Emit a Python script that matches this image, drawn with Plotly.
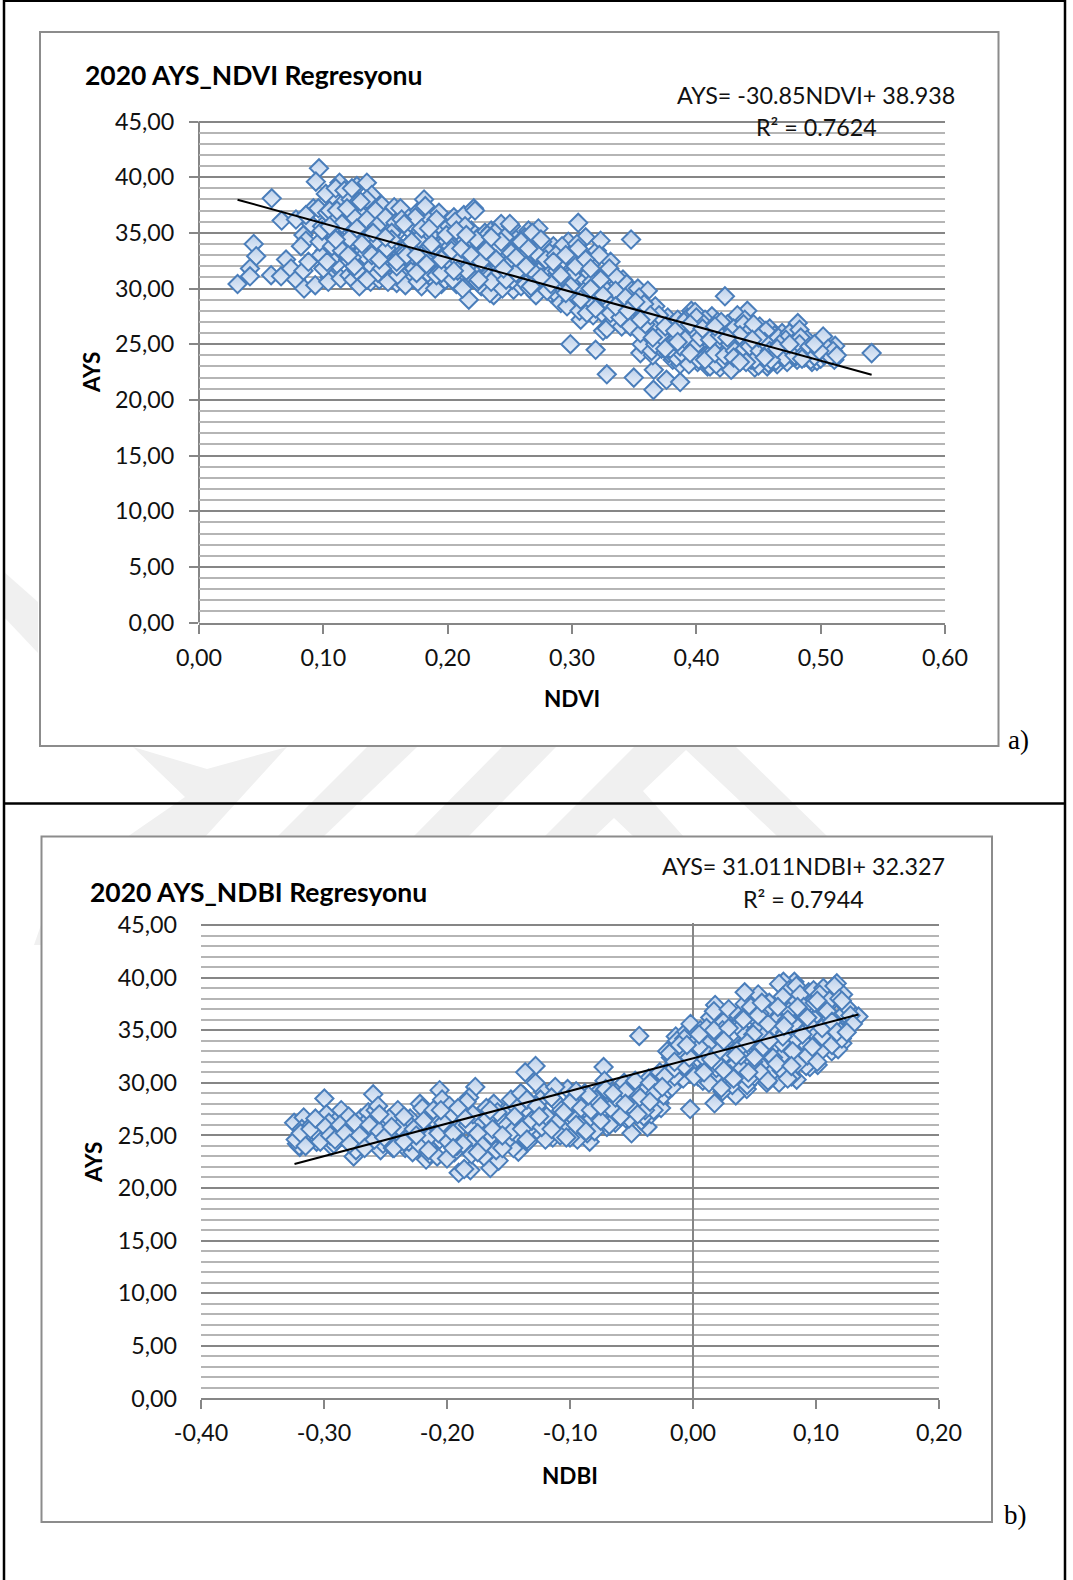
import plotly.graph_objects as go

W, H = 1073, 1580

# ---------- chart a data: NDVI / AYS ----------
ndvi = [
 .0965,.094,.0585,.0665,.078,.044,.046,.041,.041,.031,.058,.066,.070,.074,.078,.084,.0845,.0935,.084,.086,.082,.088,.090,.092,.086,
 .305,.3475,.2987,.319,.328,.3497,.3658,.3655,.376,.387,.388,.381,.423,.541,.5117,.502,.511,.4816,.441,.396,.4125,
 .096,.099,.101,.103,.105,.107,.109,.111,.113,.115,.098,.102,.104,.106,.108,.110,.112,.114,.097,.100,.105,.109,.113,.116,
 .117,.119,.121,.123,.125,.127,.129,.131,.133,.135,.137,.139,.118,.120,.122,.124,.126,.128,.130,.132,.134,.136,.138,.140,.119,.123,.127,.131,.135,.139,.121,.125,.129,.133,.137,
 .141,.143,.145,.147,.149,.151,.153,.155,.157,.159,.161,.163,.165,.167,.169,.142,.144,.146,.148,.150,.152,.154,.156,.158,.160,.162,.164,.166,.168,.170,.144,.149,.154,.159,.164,
 .171,.173,.175,.177,.179,.181,.183,.185,.187,.189,.191,.193,.195,.197,.199,.172,.174,.176,.178,.180,.182,.184,.186,.188,.190,.192,.194,.196,.198,.200,.176,.181,.186,.191,
 .201,.203,.205,.207,.209,.211,.213,.215,.217,.219,.221,.223,.225,.227,.229,.202,.204,.206,.208,.210,.212,.214,.216,.218,.220,.222,.224,.226,.228,.230,.208,.214,.222,
 .231,.233,.235,.237,.239,.241,.243,.245,.247,.249,.251,.253,.255,.257,.259,.232,.234,.236,.238,.240,.242,.244,.246,.248,.250,.252,.254,.256,.258,.260,
 .261,.263,.265,.267,.269,.271,.273,.275,.277,.279,.281,.283,.285,.287,.289,.262,.264,.266,.268,.270,.272,.274,.276,.278,.280,.282,.284,.286,.288,
 .291,.293,.295,.297,.299,.301,.303,.305,.307,.309,.311,.313,.315,.317,.319,.292,.294,.296,.298,.300,.302,.304,.306,.308,.310,.312,.314,.316,.318,.320,
 .321,.323,.325,.327,.329,.331,.333,.335,.337,.339,.341,.343,.345,.347,.349,.322,.324,.326,.328,.330,.332,.334,.336,.338,.340,.342,.344,.346,.348,
 .351,.353,.355,.357,.359,.361,.363,.365,.367,.369,.371,.373,.375,.377,.379,.352,.354,.356,.358,.360,.362,.364,.366,.368,.370,.372,.374,.376,.378,
 .381,.383,.385,.387,.389,.391,.393,.395,.397,.399,.401,.403,.405,.407,.409,.382,.384,.386,.388,.390,.392,.394,.396,.398,.400,.402,.404,.406,.408,
 .411,.413,.415,.417,.419,.421,.423,.425,.427,.429,.431,.433,.435,.437,.439,.412,.414,.416,.418,.420,.422,.424,.426,.428,.430,.432,.434,.436,.438,.440,
 .441,.443,.445,.447,.449,.451,.453,.455,.457,.459,.461,.463,.465,.467,.469,.442,.444,.446,.448,.450,.452,.454,.456,.458,.460,.462,.464,.466,.468,
 .471,.473,.475,.477,.479,.481,.483,.485,.487,.489,.491,.493,.495,.497,.499,.472,.476,.480,.484,.488,.492,.496,.500,.503,.506,.508,.510,.513,
 .099,.103,.107,.111,.115,.119,.123,.127,.131,.135,.139,.143,.147,.151,.155,
 .159,.163,.167,.171,.175,.179,.183,.187,.191,.195,.199,.203,.207,.211,.215,
 .219,.223,.227,.231,.235,.239,.243,.247,.251,.255,.259,.263,.267,.271,.275,
 .279,.283,.287,.291,.295,.299,.303,.307,.311,.315,.319,.323,.327,.331,.335,
 .339,.343,.347,.351,.355,.359,.363,.367,.371,.375,.379,.383,.387,.391,.395,
 .399,.403,.407,.411,.415,.419,.423,.427,.431,.435,.439,.443,.447,.451,.455,
 .459,.463,.467,.471,.475,.479,.483,.487,.491,.495,.499,.430,.440,.450,.460,
 .105,.115,.125,.135,.145,.155,.165,.175,.185,.195,.205,.215,.225,.235,.245,
 .255,.265,.275,.285,.295,.305,.315,.325,.335,.345,.355,.365,.375,.385,.395,
 .405,.415,.425,.435,.445,.455,.465,.475,.485,.495,.110,.120,.130,.140,.150,
]
ays_a = [
 40.8,39.6,38.1,36.1,36.2,34.0,32.9,31.8,31.1,30.4,31.2,31.1,32.6,31.8,30.8,31.6,30.0,30.3,34.8,34.3,33.8,32.4,35.8,37.2,36.6,
 35.9,34.4,25.0,24.5,22.3,22.0,22.7,20.9,21.8,21.6,23.4,23.6,29.3,24.2,24.85,25.7,23.6,26.9,28.0,28.0,27.5,
 37.2,35.6,33.4,36.8,31.0,38.2,34.6,32.2,39.5,37.6,33.0,38.5,30.6,35.2,32.8,39.0,36.2,30.9,34.2,31.8,37.0,36.0,34.0,33.2,
 38.8,35.4,31.2,37.4,33.6,39.2,30.4,36.6,32.4,39.5,34.8,38.4,36.0,32.6,38.0,30.8,35.0,37.8,33.2,31.4,36.9,34.2,30.6,37.2,33.8,39.0,31.6,35.6,38.0,32.0,34.5,36.4,30.2,33.0,35.8,
 36.6,33.2,30.8,37.5,34.4,31.6,36.0,32.8,37.3,30.5,35.2,33.6,31.0,36.6,34.0,37.0,31.4,35.6,33.0,36.4,30.6,34.8,32.2,35.9,31.2,37.2,33.4,30.3,35.4,32.6,34.2,31.9,33.8,32.0,33.0,
 35.8,31.8,34.6,37.0,30.2,38.0,33.4,36.2,31.0,35.0,32.6,36.8,30.4,34.0,32.0,33.0,36.4,30.6,35.2,32.2,37.4,31.4,34.8,33.6,30.0,36.0,31.6,35.4,30.8,33.2,34.4,32.8,33.8,31.2,
 35.6,32.2,36.4,30.4,34.2,31.4,36.6,33.0,29.0,35.2,37.2,31.8,34.6,30.2,33.2,33.8,30.8,36.0,32.6,34.8,30.0,35.6,32.0,33.6,31.0,37.0,30.6,34.0,32.4,35.0,31.6,33.4,32.8,
 33.6,31.0,35.2,29.4,34.0,32.0,35.8,30.6,33.0,31.4,35.6,29.9,34.4,32.6,30.2,34.8,29.6,32.8,35.0,31.2,33.8,30.0,34.6,32.2,35.8,30.8,33.4,31.6,34.2,31.0,
 33.4,30.4,35.2,31.6,34.0,29.4,35.4,32.4,30.2,33.6,31.2,29.6,33.8,31.0,29.3,34.6,32.0,30.0,35.0,31.4,33.0,30.6,34.2,32.6,29.8,33.2,30.8,32.2,31.6,
 28.7,32.6,30.2,34.2,28.9,31.6,33.4,29.6,27.2,31.0,34.6,29.0,32.2,27.6,30.4,33.8,30.8,28.4,33.0,31.2,29.4,34.0,28.0,32.0,29.8,27.8,31.4,30.6,28.6,33.4,
 29.4,34.3,26.2,31.4,28.4,32.4,27.4,30.2,28.8,26.8,30.8,28.0,29.6,27.0,29.2,33.0,27.8,30.0,26.4,31.8,28.6,27.2,31.0,29.0,26.6,28.2,30.4,27.6,29.8,
 28.2,30.0,24.2,27.6,25.6,29.8,26.6,24.0,28.4,25.2,27.0,26.2,24.8,27.4,25.8,26.8,29.2,25.0,28.6,26.0,27.2,24.4,26.4,25.4,27.6,24.6,26.0,25.2,24.2,
 26.8,24.4,27.2,23.2,25.8,23.6,27.4,24.8,26.2,27.9,23.4,26.6,25.0,27.2,23.0,25.2,23.8,26.4,24.2,27.0,25.4,23.2,26.0,24.6,27.4,23.6,25.6,26.8,24.0,
 23.0,26.2,24.4,27.0,22.9,25.4,23.8,26.8,24.8,22.8,26.0,27.6,23.4,25.2,27.2,24.2,26.6,23.2,25.0,27.0,23.6,25.8,24.6,22.7,26.4,23.9,25.2,24.0,26.8,24.4,
 23.8,26.2,24.6,22.9,25.6,26.6,23.4,25.0,23.0,26.4,24.2,25.8,23.2,24.8,26.0,25.2,23.6,26.8,24.4,23.1,25.4,24.0,26.2,23.3,25.0,24.6,23.5,25.6,24.2,
 24.6,23.4,26.0,24.0,25.2,23.6,26.3,24.8,23.8,25.4,24.2,23.4,25.0,23.5,24.4,25.4,24.8,23.9,25.6,24.2,23.6,24.6,23.7,24.0,24.6,23.9,24.4,24.0,
 35.2,32.4,33.8,37.0,35.8,37.2,32.8,35.4,34.0,36.2,33.0,35.6,31.8,33.6,35.0,
 32.4,36.2,33.0,34.2,31.4,35.4,32.2,34.0,36.2,31.4,34.8,33.4,35.2,33.6,31.6,
 33.0,34.4,32.4,33.4,30.6,32.6,34.2,30.8,33.2,31.4,34.2,32.0,30.2,33.2,34.4,
 32.6,30.4,33.0,31.2,33.0,30.2,32.0,29.0,32.6,30.0,28.2,30.8,29.0,27.8,29.8,
 27.4,29.2,26.6,28.8,26.0,26.8,27.6,25.0,25.8,26.6,24.6,26.2,24.8,25.4,26.8,
 24.8,25.6,23.6,25.4,24.2,25.8,24.0,25.0,24.4,25.8,24.6,24.8,23.6,24.4,25.2,
 24.4,24.0,25.0,23.8,24.6,24.0,25.0,24.2,24.8,23.9,24.4,23.8,23.4,25.6,23.6,
 35.6,33.4,32.0,30.8,32.6,34.4,35.8,33.0,35.4,32.6,31.6,34.8,30.8,34.6,31.8,
 32.8,33.6,31.0,32.4,29.6,33.6,31.8,29.4,28.4,28.0,27.2,25.6,24.6,25.2,24.2,
 26.4,26.6,25.6,23.4,25.4,23.8,24.6,25.0,23.7,25.0,34.4,33.0,37.8,35.0,34.6,
]
trend_a_x = [0.031, 0.541]
trend_a_y = [37.98, 22.25]

# ---------- chart b data: NDBI / AYS ----------
ndbi = [
 -.0437,-.0023,.0175,.1345,.1169,.0824,.0735,.1214,.1128,.1014,.095,.0843,.07,.0437,.0348,-.0727,-.0272,-.037,-.0632,-.0545,
 -.2997,-.26,-.3243,-.3165,-.3197,-.2759,-.128,-.1364,-.177,-.206,-.1648,-.158,-.181,-.1905,-.084,-.142,-.217,
 -.322,-.318,-.314,-.310,-.306,-.302,-.298,-.294,-.290,-.286,-.282,-.278,-.274,-.270,-.266,-.320,-.312,-.304,-.296,-.288,-.280,-.272,-.264,-.308,-.292,-.284,-.276,-.268,
 -.262,-.258,-.254,-.250,-.246,-.242,-.238,-.234,-.230,-.226,-.222,-.218,-.214,-.210,-.206,-.260,-.256,-.252,-.248,-.244,-.240,-.236,-.232,-.228,-.224,-.220,-.216,-.212,-.208,-.204,
 -.202,-.198,-.194,-.190,-.186,-.182,-.178,-.174,-.170,-.166,-.162,-.158,-.154,-.150,-.146,-.200,-.196,-.192,-.188,-.184,-.180,-.176,-.172,-.168,-.164,-.160,-.156,-.152,-.148,-.144,
 -.142,-.138,-.134,-.130,-.126,-.122,-.118,-.114,-.110,-.106,-.102,-.098,-.094,-.090,-.086,-.140,-.136,-.132,-.128,-.124,-.120,-.116,-.112,-.108,-.104,-.100,-.096,-.092,-.088,-.084,
 -.082,-.078,-.074,-.070,-.066,-.062,-.058,-.054,-.050,-.046,-.042,-.038,-.034,-.030,-.026,-.080,-.076,-.072,-.068,-.064,-.060,-.056,-.052,-.048,-.044,-.040,-.036,-.032,-.028,-.024,
 -.022,-.020,-.018,-.016,-.014,-.012,-.010,-.008,-.006,-.004,-.002,.000,.002,.004,.006,-.021,-.017,-.013,-.009,-.005,-.001,.003,.007,-.015,-.011,-.007,-.003,.001,.005,
 .008,.010,.012,.014,.016,.018,.020,.022,.024,.026,.028,.030,.032,.034,.036,.009,.011,.013,.015,.017,.019,.021,.023,.025,.027,.029,.031,.033,.035,.037,.012,.018,.024,.030,.036,
 .038,.040,.042,.044,.046,.048,.050,.052,.054,.056,.058,.060,.062,.064,.066,.039,.041,.043,.045,.047,.049,.051,.053,.055,.057,.059,.061,.063,.065,.067,.042,.048,.054,.060,.066,
 .068,.070,.072,.074,.076,.078,.080,.082,.084,.086,.088,.090,.092,.094,.096,.069,.071,.073,.075,.077,.079,.081,.083,.085,.087,.089,.091,.093,.095,.097,.072,.078,.084,.090,
 .098,.100,.102,.104,.106,.108,.110,.112,.114,.116,.118,.120,.122,.124,.126,.099,.101,.103,.105,.107,.109,.111,.113,.115,.117,.119,.121,.123,.125,.128,.130,
 -.323,-.319,-.315,-.311,-.307,-.303,-.299,-.295,-.291,-.287,-.283,-.279,-.275,-.271,-.267,
 -.263,-.259,-.255,-.251,-.247,-.243,-.239,-.235,-.231,-.227,-.223,-.219,-.215,-.211,-.207,
 -.203,-.199,-.195,-.191,-.187,-.183,-.179,-.175,-.171,-.167,-.163,-.159,-.155,-.151,-.147,
 -.143,-.139,-.135,-.131,-.127,-.123,-.119,-.115,-.111,-.107,-.103,-.099,-.095,-.091,-.087,
 -.083,-.079,-.075,-.071,-.067,-.063,-.059,-.055,-.051,-.047,-.043,-.039,-.035,-.031,-.027,
 -.023,-.019,-.015,-.011,-.007,-.003,.001,.005,.009,.013,.017,.021,.025,.029,.033,
 .037,.041,.045,.049,.053,.057,.061,.065,.069,.073,.077,.081,.085,.089,.093,
 .097,.101,.105,.109,.113,.117,.121,.125,.044,.050,.056,.062,.068,.074,.080,
 .015,.025,.035,.005,-.005,-.015,-.025,-.035,-.045,-.055,-.065,-.075,-.085,-.095,-.105,
 -.115,-.125,-.135,-.145,-.155,-.165,-.175,-.185,-.195,-.205,-.215,-.225,-.235,-.245,-.255,
]
ays_b = [
 34.45,27.5,28.05,36.3,39.45,39.6,39.6,33.75,33.0,31.7,31.5,30.3,30.0,29.4,28.8,31.5,28.1,25.8,26.2,26.6,
 28.5,28.9,26.2,26.7,23.9,23.0,31.6,31.0,29.6,29.3,21.9,22.6,21.7,21.45,24.4,23.45,22.7,
 24.2,25.6,24.8,26.0,24.4,25.2,27.0,24.0,26.4,27.4,24.6,25.8,23.6,26.6,24.4,24.0,25.4,24.6,26.2,25.0,26.8,24.8,27.2,25.4,24.2,25.6,24.6,26.0,
 25.8,27.4,23.6,26.2,24.4,27.0,25.0,23.8,26.6,24.2,28.0,25.4,23.2,26.8,24.6,25.4,27.8,24.2,26.0,23.8,27.4,24.8,26.2,23.4,25.6,27.6,24.0,26.6,23.0,28.4,
 25.2,27.8,23.4,26.4,21.8,28.6,24.6,26.8,23.0,25.6,28.0,24.2,26.2,27.4,23.8,22.8,27.0,24.0,25.8,28.2,23.2,26.0,24.8,27.6,25.0,23.6,26.6,24.4,28.4,25.2,
 26.2,28.8,24.4,27.4,25.4,29.2,26.6,24.8,28.0,25.6,29.4,26.8,24.6,28.2,25.2,29.0,27.6,25.8,30.0,28.4,24.6,26.4,29.6,25.0,27.2,24.8,28.6,26.0,29.0,27.0,
 26.6,29.0,27.4,25.8,28.6,26.8,29.6,27.2,25.2,28.8,26.4,29.4,27.0,29.8,27.6,25.4,28.2,30.2,26.0,28.4,27.8,30.0,26.6,29.2,28.0,26.8,30.4,27.4,29.6,28.8,
 31.0,29.4,32.4,30.2,34.4,31.4,33.2,30.4,34.8,32.0,35.6,31.2,33.6,30.6,35.0,33.0,29.6,34.0,31.8,33.6,32.6,34.6,31.0,30.6,32.8,34.2,31.6,33.8,32.2,
 30.2,34.4,31.6,36.2,33.2,37.4,30.6,35.6,29.2,33.8,31.2,36.6,29.8,34.6,32.2,32.4,35.2,30.0,34.0,36.8,31.4,33.4,29.5,35.8,32.8,37.0,30.6,34.8,31.8,36.4,33.6,32.0,35.0,30.8,33.0,
 35.2,31.4,37.5,29.8,34.0,36.4,30.6,33.2,38.0,31.8,35.6,30.0,37.6,33.8,31.2,32.6,36.2,34.6,30.4,37.2,32.0,35.0,38.4,31.0,34.4,36.8,30.2,33.4,35.8,32.4,38.6,34.0,36.6,32.8,33.6,
 36.0,39.4,31.2,37.8,33.4,38.8,30.6,35.6,39.2,32.2,37.0,34.4,31.6,38.6,33.0,35.0,32.4,38.2,34.8,30.4,36.6,33.6,37.6,31.8,38.4,34.0,36.4,32.6,37.4,35.4,33.8,36.8,34.2,37.2,
 38.8,34.6,36.4,33.0,39.0,35.6,37.4,34.0,38.2,36.0,33.2,35.0,38.4,36.2,37.0,37.6,32.0,38.4,34.4,36.8,35.8,37.8,33.6,39.2,35.2,38.0,34.2,36.6,37.2,36.4,35.6,
 24.6,25.2,24.0,25.6,26.6,24.4,25.8,25.0,24.6,26.0,25.2,24.2,26.2,25.0,23.8,
 26.0,24.6,25.4,24.8,26.6,23.8,25.8,26.8,24.4,25.6,24.2,26.4,24.8,27.4,25.2,
 26.2,24.4,25.2,27.6,24.2,26.0,27.0,25.2,24.0,26.6,25.6,27.2,23.8,26.0,25.4,
 27.6,25.6,28.4,26.4,27.8,25.8,26.8,28.6,26.2,27.4,24.8,28.2,26.0,27.6,25.4,
 27.4,28.4,26.4,29.4,27.6,28.6,26.8,29.2,27.8,30.2,28.6,27.4,30.0,29.0,31.0,
 30.6,32.8,31.4,33.6,31.6,32.4,30.6,33.4,31.0,32.6,35.0,33.0,31.2,35.2,30.4,
 33.2,36.0,31.0,34.6,36.4,33.4,35.6,32.4,37.2,34.4,36.0,33.0,37.2,34.6,36.2,
 33.4,37.8,35.2,36.8,35.8,34.8,37.8,34.8,33.8,32.4,37.6,34.0,31.8,35.4,31.6,
 32.2,34.0,32.6,34.6,33.6,32.0,29.6,28.2,27.0,28.0,29.0,27.8,28.8,29.2,27.2,
 25.6,26.8,24.6,26.8,25.0,27.4,23.4,26.6,23.8,27.4,23.6,25.0,24.4,25.8,27.0,
]
trend_b_x = [-0.324, 0.1345]
trend_b_y = [22.28, 36.5]

# ---------- tick labels ----------
y_vals = [0, 5, 10, 15, 20, 25, 30, 35, 40, 45]
y_text = ["0,00", "5,00", "10,00", "15,00", "20,00", "25,00", "30,00", "35,00", "40,00", "45,00"]
xa_vals = [0, .1, .2, .3, .4, .5, .6]
xa_text = ["0,00", "0,10", "0,20", "0,30", "0,40", "0,50", "0,60"]
xb_vals = [-.4, -.3, -.2, -.1, 0, .1, .2]
xb_text = ["-0,40", "-0,30", "-0,20", "-0,10", "0,00", "0,10", "0,20"]

FONT = "Lato"
TXT = "#111111"
MAJ = "#868686"
MIN = "#b5b5b5"
PT_LINE = "#4a7ebb"
WM = "#f0f0f0"
FRAME = "#8c8c8c"

fig = go.Figure()

def fx(px): return px / W
def fy(py): return 1 - py / H

def scatter(x, y, xa, ya):
    fig.add_trace(go.Scatter(x=x, y=y, xaxis=xa, yaxis=ya, mode="markers", showlegend=False, cliponaxis=False,
        marker=dict(symbol="diamond", size=14, color="#bcd0ea",
                    gradient=dict(type="vertical", color="#e8eff9"),
                    line=dict(color=PT_LINE, width=2))))

def trend(x, y, xa, ya):
    fig.add_trace(go.Scatter(x=x, y=y, xaxis=xa, yaxis=ya, mode="lines", showlegend=False,
                             line=dict(color="#000000", width=2)))

scatter(ndvi, ays_a, "x", "y")
trend(trend_a_x, trend_a_y, "x", "y")
scatter(ndbi, ays_b, "x2", "y2")
trend(trend_b_x, trend_b_y, "x2", "y2")

Y_TOP = 45.15   # small headroom so the 45,00 gridline is drawn

def yaxis(dom, anchor, ticks, standoff, line):
    return dict(domain=dom, anchor=anchor, range=[0, Y_TOP], tickmode="array", tickvals=y_vals, ticktext=y_text,
                showgrid=True, gridcolor=MAJ, gridwidth=1.5, zeroline=False,
                showline=False, linecolor=MAJ, linewidth=2,
                ticks=ticks, ticklen=9, tickcolor=MAJ, tickwidth=2, ticklabelstandoff=standoff,
                tickfont=dict(family=FONT, size=23.3, color=TXT),
                minor=dict(tickmode="linear", tick0=0, dtick=1, showgrid=True, gridcolor=MIN, gridwidth=1.5, ticks=""))

def xaxis(dom, anchor, rng, vals, text, zero, line_y):
    return dict(domain=dom, anchor=anchor, range=rng, tickmode="array", tickvals=vals, ticktext=text,
                showgrid=False, zeroline=zero, zerolinecolor=MAJ, zerolinewidth=2,
                showline=True, linecolor=MAJ, linewidth=2,
                ticks="outside", ticklen=9, tickcolor=MAJ, tickwidth=2, ticklabelstandoff=4,
                tickfont=dict(family=FONT, size=23.3, color=TXT))

def poly(pts):
    return "M" + "L".join(f"{fx(a):.5f},{fy(b):.5f}" for a, b in pts) + "Z"

def rect(x0, y0, x1, y1, color, width, fill=None):
    return dict(type="rect", xref="paper", yref="paper", layer="below",
                x0=fx(x0), x1=fx(x1), y0=fy(y0), y1=fy(y1),
                line=dict(color=color, width=width), fillcolor=fill or "rgba(0,0,0,0)")

def seg(x0, y0, x1, y1, color="#000000", width=2.5):
    return dict(type="line", xref="paper", yref="paper", layer="below",
                x0=fx(x0), x1=fx(x1), y0=fy(y0), y1=fy(y1), line=dict(color=color, width=width))

watermark = [
    [(4, 572), (38, 602), (38, 653), (4, 617)],
    [(133, 747), (207, 769), (287, 747), (205, 837), (127, 837), (185, 797)],
    [(367, 747), (417, 747), (323, 837), (277, 837)],
    [(502, 747), (556, 747), (468, 837), (413, 837)],
    [(634, 747), (736, 747), (828, 837), (778, 837), (686, 750), (643, 791), (684, 837), (634, 837), (614, 818), (594, 837), (544, 837)],
    [(41, 925), (41, 945), (34, 945)],
]
shapes = [dict(type="path", xref="paper", yref="paper", layer="below", path=poly(p),
               fillcolor=WM, line=dict(width=0)) for p in watermark]
shapes += [
    rect(40, 32, 998.5, 746, FRAME, 2, "#ffffff"),
    rect(41.5, 836.5, 992, 1522, FRAME, 2, "#ffffff"),
    seg(199, 121.5, 199, 622.6, MAJ, 2),
    seg(4, 0, 4, 1580),
    seg(1065, 0, 1065, 1580),
    seg(4, 803.5, 1065, 803.5),
    seg(4, 0.8, 1065, 0.8),
]

def note(px, py, text, size=23.3, bold=False, family=FONT, color=TXT, angle=0, anchor="center"):
    return dict(xref="paper", yref="paper", x=fx(px), y=fy(py), text=f"<b>{text}</b>" if bold else text,
                showarrow=False, xanchor=anchor, yanchor="middle", textangle=angle,
                font=dict(family=family, size=size, color=color))

annotations = [
    note(83, 75, "2020 AYS_NDVI Regresyonu", size=26.5, bold=True, color="#000000", anchor="left"),
    note(816, 95, "AYS= -30.85NDVI+ 38.938"),
    note(816, 127, "R² = 0.7624"),
    note(572, 698, "NDVI", size=22.5, bold=True, color="#000000"),
    note(91, 373, "AYS", size=22.5, bold=True, color="#000000", angle=-90),
    note(1018, 740, "a)", size=27, family="Liberation Serif", color="#000000"),
    note(88, 892, "2020 AYS_NDBI Regresyonu", size=26.5, bold=True, color="#000000", anchor="left"),
    note(803, 866, "AYS= 31.011NDBI+ 32.327"),
    note(803, 899, "R² = 0.7944"),
    note(570, 1475, "NDBI", size=22.5, bold=True, color="#000000"),
    note(93, 1163, "AYS", size=22.5, bold=True, color="#000000", angle=-90),
    note(1015, 1515, "b)", size=27, family="Liberation Serif", color="#000000"),
]

fig.update_layout(
    width=W, height=H, autosize=False, margin=dict(l=0, r=0, t=0, b=0, pad=0, autoexpand=False),
    paper_bgcolor="#ffffff", plot_bgcolor="rgba(0,0,0,0)", showlegend=False,
    xaxis=xaxis([fx(199), fx(945)], "y", [0, 0.6], xa_vals, xa_text, False, 622.6),
    yaxis=yaxis([fy(622.6), fy(119.83)], "x", "outside", 10, True),
    xaxis2=xaxis([fx(201), fx(939)], "y2", [-0.4, 0.2], xb_vals, xb_text, True, 1398.4),
    yaxis2=yaxis([fy(1398.4), fy(923.42)], "x2", "", 23, False),
    shapes=shapes, annotations=annotations,
)

fig.write_html("out.html", config={"displayModeBar": False},
               post_script="document.body.style.margin='0';document.body.style.overflow='hidden';")
